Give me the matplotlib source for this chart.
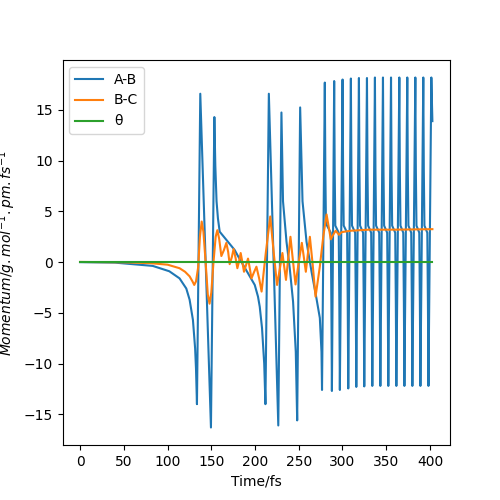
import numpy as np
import matplotlib
matplotlib.use('Agg')
import matplotlib.pyplot as plt

# A-B momentum
t_ab = [0, 40, 60, 83, 102, 113.7, 121.4, 125.2, 129, 131.5, 132.5, 133.6,
        137.4, 149.6, 153.5, 154.6, 156.0, 157.6, 159.6, 167.2, 176.7, 180.5, 192, 199.7, 203.4, 205.4, 208, 210.5, 211.9,
        215.8, 226.6, 230.2, 232, 236, 239.7, 243.5, 246.6, 248.2,
        251.6, 254.3, 258.9, 264.6, 270.3, 274.1, 276, 276.6,
        279.8, 280.4, 281.1, 286.6, 287.3, 287.9,
        290.5, 291.1, 291.8, 295.7, 296.4, 297.0,
        300.1, 300.7, 301.4, 305.3, 306.0, 306.6,
        309.6, 310.2, 310.9, 314.5, 315.2, 315.8,
        318.8, 319.4, 320.1, 323.6, 324.3, 324.9,
        328.0, 328.6, 329.3, 332.8, 333.5, 334.1,
        337.1, 337.7, 338.4, 342.0, 342.7, 343.3,
        346.3, 346.9, 347.6, 351.1, 351.8, 352.4,
        355.5, 356.1, 356.8, 360.3, 361.0, 361.6,
        365.0, 365.6, 366.3, 369.5, 370.2, 370.8,
        374.1, 374.7, 375.4, 378.6, 379.3, 379.9,
        383.3, 383.9, 384.6, 387.8, 388.5, 389.1,
        392.4, 393.0, 393.7, 397.0, 397.7, 398.3,
        401.6, 402.8]
p_ab = [0, -0.05, -0.2, -0.37, -0.9, -1.6, -2.6, -3.7, -5.7, -8.5, -10.5, -14.0,
        16.6, -16.3, 14.3, 9.5, 6.0, 4.3, 3.0, 2.2, 1.2, 0.6, -1.1, -2.25, -3.4, -4.4, -6.5, -10.0, -14.0,
        16.6, -16.1, 14.75, 6.0, 2.0, -0.6, -3.9, -8.85, -15.6,
        15.25, 6.0, 2.0, -0.93, -3.6, -5.5, -8.85, -12.6,
        17.7, 9.0, 3.8, 2.9, -4.0, -12.7,
        17.85, 9.0, 3.6, 2.9, -4.0, -12.6,
        18.0, 9.0, 3.6, 2.9, -4.0, -12.45,
        18.1, 9.0, 3.6, 2.9, -4.0, -12.3,
        18.15, 9.0, 3.6, 2.9, -4.0, -12.25,
        18.15, 9.0, 3.6, 2.9, -4.0, -12.2,
        18.2, 9.0, 3.6, 2.9, -4.0, -12.2,
        18.2, 9.0, 3.6, 2.9, -4.0, -12.2,
        18.2, 9.0, 3.6, 2.9, -4.0, -12.2,
        18.2, 9.0, 3.6, 2.9, -4.0, -12.2,
        18.2, 9.0, 3.6, 2.9, -4.0, -12.2,
        18.2, 9.0, 3.6, 2.9, -4.0, -12.2,
        18.2, 9.0, 3.6, 2.9, -4.0, -12.2,
        18.2, 13.9]

# B-C momentum
t_bc = [0, 50, 80, 100, 113.7, 120, 125.2, 128.5, 130.5, 132.5, 135, 137, 139, 141, 143.5, 146, 148, 150,
        152.5, 155, 156.9, 159, 161.5, 164.5, 167.2, 169.3, 171, 173.5, 175.5, 177.8, 179.8, 181.8, 183.6,
        185.5, 187.4, 189.7, 192, 194, 195.9, 198.8, 201.6, 204.7, 207.5, 212.3, 217.4, 221.4, 225.2, 228.3,
        231.3, 233.3, 235.4, 238, 240.5, 243.4, 246.3, 250, 253.5, 255.8, 258.1, 260.4, 262.7, 266, 269.2,
        274, 278, 281.8, 284.2, 286.6, 289.4, 292.2, 294.1, 296, 299, 302, 310, 330, 360, 402.8]
p_bc = [0.02, -0.02, -0.1, -0.25, -0.6, -0.95, -1.4, -1.9, -2.25, -1.9, -0.5, 2.5, 4.0, 3.0, 0, -3.2, -4.1, -3.0,
        0, 2.5, 3.15, 2.3, 0.6, 1.2, 1.9, 1.0, -0.2, 0.5, 1.3, 0.4, -0.6, 0.1, 0.9,
        0.0, -0.95, -0.3, 0.35, -0.6, -1.6, -1.0, -0.45, -1.6, -2.9, 0.9, 4.5, 0.9, -2.25, -0.7,
        0.9, -0.4, -1.75, 0.4, 2.5, 0.1, -2.2, 0.0, 1.9, 0.5, -0.95, 0.8, 2.5, -0.3, -3.4,
        -0.5, 2.5, 4.7, 3.5, 2.25, 2.7, 3.1, 2.9, 2.7, 2.95, 3.0, 3.1, 3.2, 3.2, 3.25]

# theta momentum
t_th = [0, 402.8]
p_th = [0, 0]

fig, ax = plt.subplots(figsize=(5, 5), dpi=100)
ax.plot(t_ab, p_ab, label='A-B')
ax.plot(t_bc, p_bc, label='B-C')
ax.plot(t_th, p_th, label='θ')
ax.set_xlabel('Time/fs')
ax.set_ylabel(r'$Momentum/g.mol^{-1}.pm.fs^{-1}$')
ax.legend(loc='upper left')

fig.savefig('out.png')
